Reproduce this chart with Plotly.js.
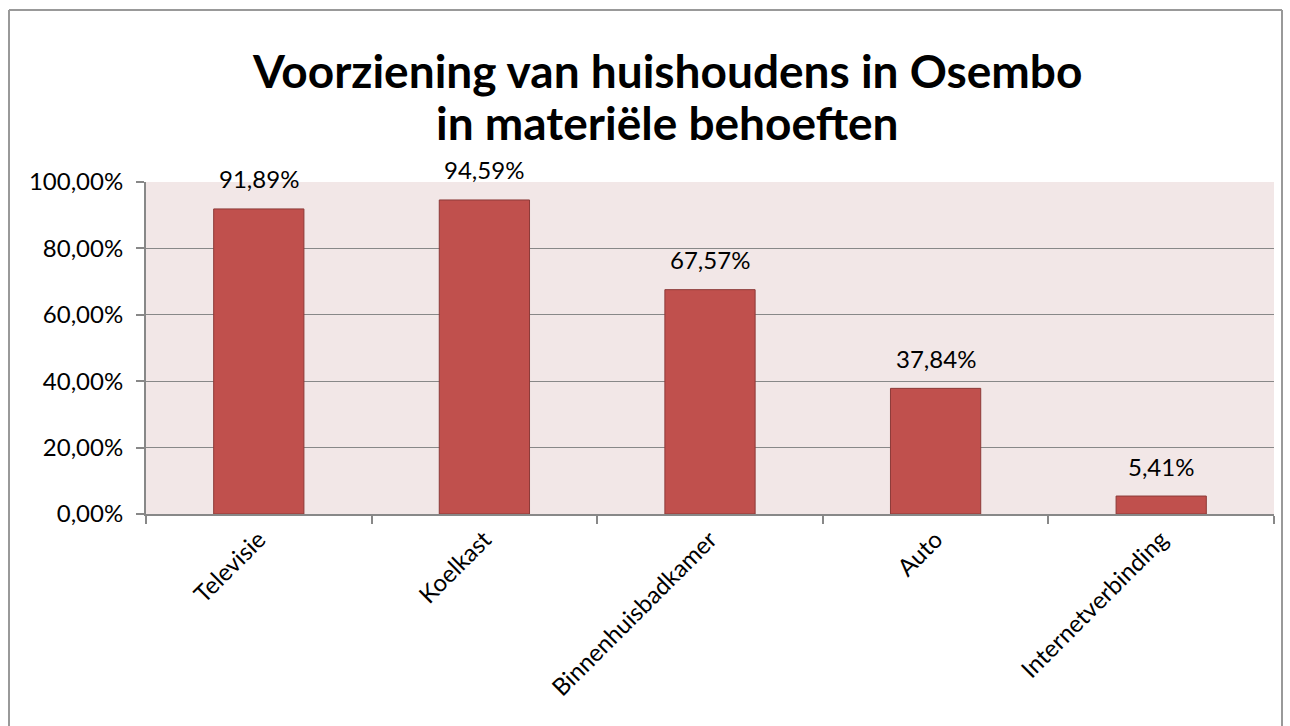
<!DOCTYPE html>
<html>
<head>
<meta charset="utf-8">
<script src="https://cdn.plot.ly/plotly-3.0.1.min.js"></script>
<style>html,body{margin:0;padding:0;background:#fff;}#chart{width:1290px;height:726px;}</style>
</head>
<body>
<div id="chart"></div>
<script>
const categories = ["Televisie", "Koelkast", "Binnenhuisbadkamer", "Auto", "Internetverbinding"];
const values = [0.9189, 0.9459, 0.6757, 0.3784, 0.0541];
const valueLabels = ["91,89%", "94,59%", "67,57%", "37,84%", "5,41%"];
const titleLines = ["Voorziening van huishoudens in Osembo", "in materiële behoeften"];

const L = 146, R = 1274, T = 182, B = 514, W = 1290, H = 726;
const px = x => (x - L) / (R - L);
const py = y => (B - y) / (B - T);
const font = "Lato, 'Open Sans', sans-serif";

const trace = {
  type: "bar",
  x: categories,
  y: values,
  marker: {color: "#C0504D", line: {color: "#8C3A38", width: 1}},
  hoverinfo: "none"
};

const labelAnns = categories.map((c, i) => ({
  xref: "x", yref: "y", x: c, y: values[i], text: valueLabels[i],
  showarrow: false, yanchor: "middle", yshift: 30,
  font: {family: font, size: 24, color: "#000"}
}));

const layout = {
  width: W, height: H,
  margin: {l: L, r: W - R, t: T, b: H - B},
  paper_bgcolor: "#fff",
  plot_bgcolor: "#F2E7E7",
  bargap: 0.6,
  separators: ",.",
  showlegend: false,
  font: {family: font, color: "#000"},
  xaxis: {
    type: "category",
    tickangle: -45,
    tickfont: {size: 24, family: font},
    showline: true, linecolor: "#888", linewidth: 2,
    ticks: "outside", ticklen: 8, tickcolor: "#888", tickwidth: 2,
    tickson: "boundaries",
    showgrid: false
  },
  yaxis: {
    range: [0, 1], dtick: 0.2, tickformat: ".2%",
    tickfont: {size: 24, family: font},
    ticklabelstandoff: 8,
    showline: true, linecolor: "#888", linewidth: 2,
    ticks: "outside", ticklen: 8, tickcolor: "#888", tickwidth: 2,
    showgrid: true, gridcolor: "#888", gridwidth: 1,
    zeroline: false
  },
  annotations: [
    {xref: "paper", yref: "paper", x: (667 - L) / (R - L), y: py(70), text: "<b>" + titleLines[0] + "</b>",
     showarrow: false, font: {family: font, size: 46, color: "#000"}, xanchor: "center", yanchor: "middle"},
    {xref: "paper", yref: "paper", x: (667 - L) / (R - L), y: py(122), text: "<b>" + titleLines[1] + "</b>",
     showarrow: false, font: {family: font, size: 46, color: "#000"}, xanchor: "center", yanchor: "middle"}
  ].concat(labelAnns),
  shapes: [
    {type: "line", xref: "paper", yref: "paper", x0: px(9), x1: px(9), y0: py(10), y1: py(740), line: {color: "#999", width: 2}},
    {type: "line", xref: "paper", yref: "paper", x0: px(9), x1: px(1282), y0: py(10), y1: py(10), line: {color: "#999", width: 2}},
    {type: "line", xref: "paper", yref: "paper", x0: px(1282), x1: px(1282), y0: py(10), y1: py(740), line: {color: "#999", width: 2}}
  ]
};

Plotly.newPlot("chart", [trace], layout, {displayModeBar: false, staticPlot: true});
</script>
</body>
</html>
